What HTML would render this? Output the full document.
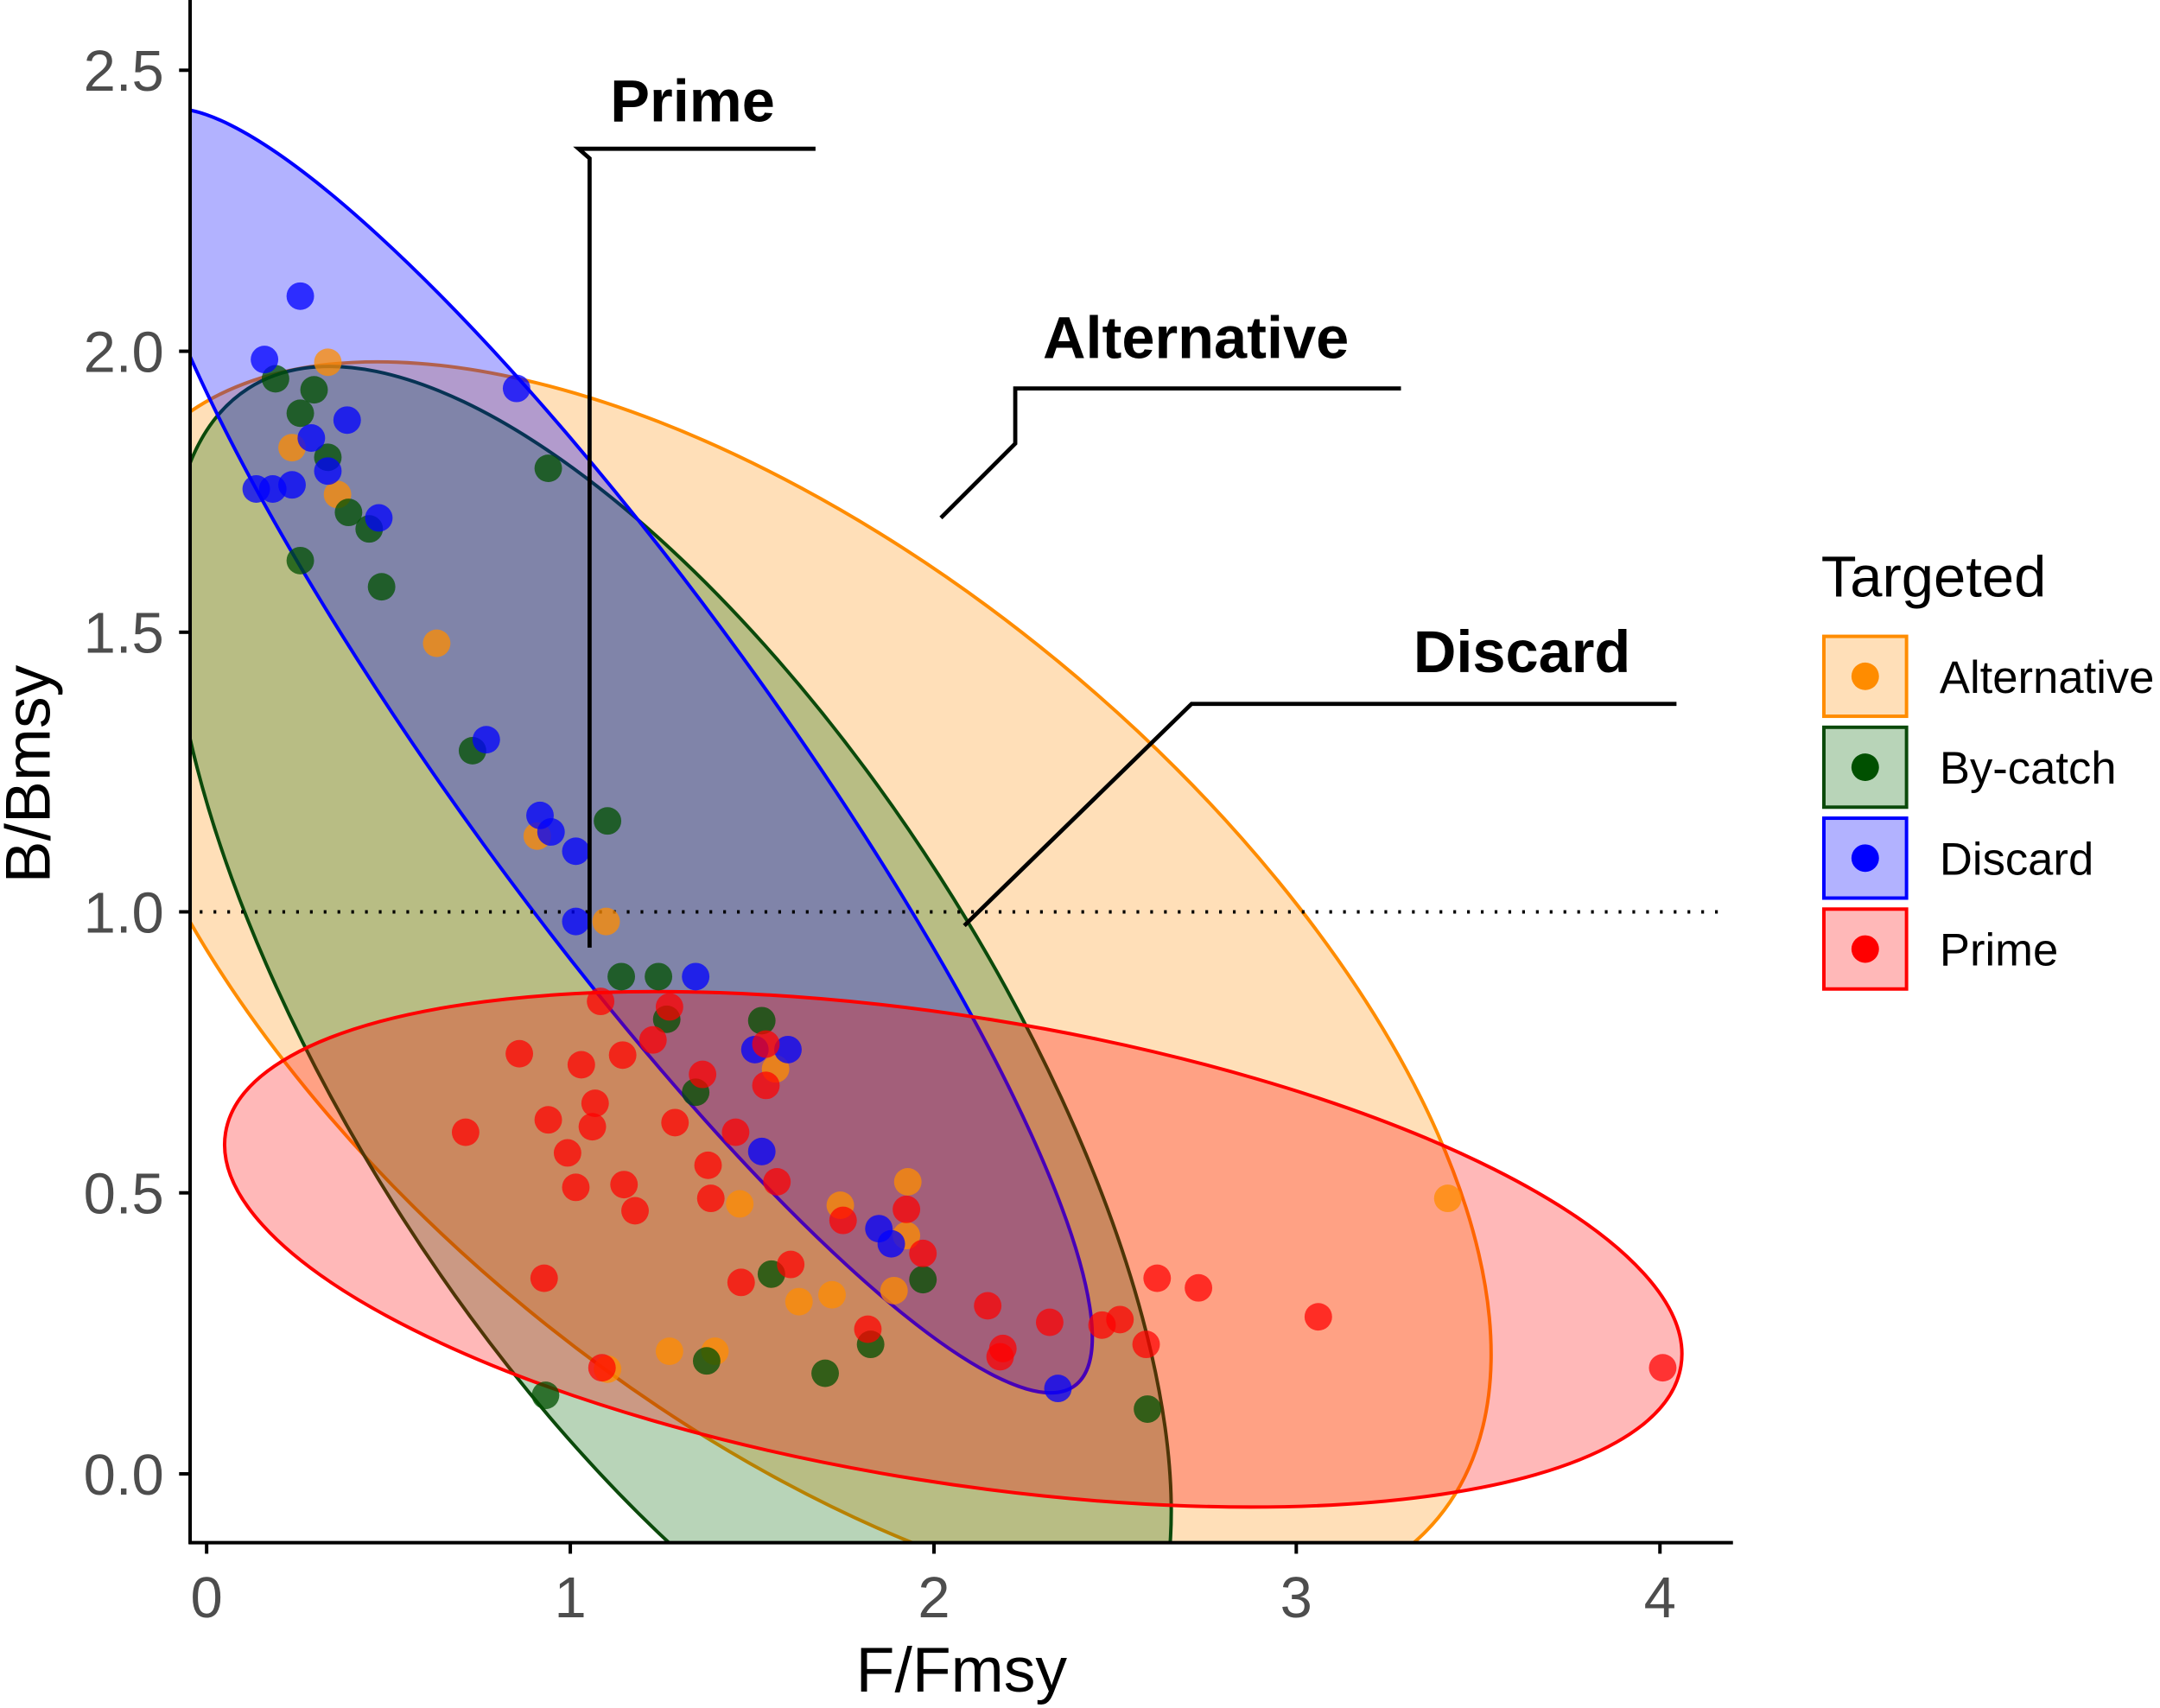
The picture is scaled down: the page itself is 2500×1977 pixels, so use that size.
<!DOCTYPE html>
<html><head><meta charset="utf-8"><style>html,body{margin:0;padding:0;background:#fff;width:2500px;height:1977px;overflow:hidden;position:relative}svg{display:block;position:absolute;left:0;top:0}</style></head>
<body>
<svg width="2500" height="1977" viewBox="0 0 1568 1240" preserveAspectRatio="none" xmlns="http://www.w3.org/2000/svg" font-family="Liberation Sans, sans-serif">
<defs><clipPath id="p"><rect x="139" y="0" width="1120" height="1120"/></clipPath></defs>
<g clip-path="url(#p)">
<ellipse cx="575" cy="715" rx="608" ry="304" transform="rotate(39.5 575 715)" fill="#FF8C00" fill-opacity="0.28" stroke="#FF8C00" stroke-width="2.5"/>
<ellipse cx="487" cy="760" rx="568" ry="231" transform="rotate(57.3 487 760)" fill="#006400" fill-opacity="0.28" stroke="#0B4A0B" stroke-width="2.5"/>
<ellipse cx="445" cy="545" rx="570" ry="116" transform="rotate(54 445 545)" fill="#0000FF" fill-opacity="0.3" stroke="#0000FF" stroke-width="2.5"/>
<ellipse cx="692" cy="907" rx="535" ry="169" transform="rotate(9.1 692 907)" fill="#FF0000" fill-opacity="0.28" stroke="#FF0000" stroke-width="2.5"/>
</g>
<line x1="145" y1="662" x2="1255" y2="662" stroke="#000" stroke-width="2.5" stroke-dasharray="2,8"/>
<g fill="#FF8C00" fill-opacity="0.75">
<circle cx="238" cy="263" r="10"/><circle cx="212" cy="325" r="10"/><circle cx="245" cy="359" r="10"/><circle cx="317" cy="467" r="10"/><circle cx="390" cy="607" r="10"/><circle cx="440" cy="669" r="10"/><circle cx="486" cy="981" r="10"/><circle cx="519" cy="981" r="10"/><circle cx="580" cy="945" r="10"/><circle cx="604" cy="940" r="10"/><circle cx="537" cy="874" r="10"/><circle cx="563" cy="776" r="10"/><circle cx="610" cy="875" r="10"/><circle cx="659" cy="858" r="10"/><circle cx="658" cy="897" r="10"/><circle cx="649" cy="937" r="10"/><circle cx="1051" cy="870" r="10"/><circle cx="441" cy="994" r="10"/>
</g>
<g fill="#005000" fill-opacity="0.75">
<circle cx="200" cy="275" r="10"/><circle cx="228" cy="283" r="10"/><circle cx="218" cy="300" r="10"/><circle cx="218" cy="407" r="10"/><circle cx="238" cy="332" r="10"/><circle cx="253" cy="372" r="10"/><circle cx="268" cy="384" r="10"/><circle cx="277" cy="426" r="10"/><circle cx="398" cy="340" r="10"/><circle cx="343" cy="545" r="10"/><circle cx="441" cy="596" r="10"/><circle cx="451" cy="709" r="10"/><circle cx="478" cy="709" r="10"/><circle cx="484" cy="740" r="10"/><circle cx="505" cy="793" r="10"/><circle cx="553" cy="741" r="10"/><circle cx="560" cy="925" r="10"/><circle cx="513" cy="988" r="10"/><circle cx="599" cy="997" r="10"/><circle cx="632" cy="976" r="10"/><circle cx="670" cy="929" r="10"/><circle cx="833" cy="1023" r="10"/><circle cx="396" cy="1013" r="10"/>
</g>
<g fill="#0000FF" fill-opacity="0.75">
<circle cx="218" cy="215" r="10"/><circle cx="192" cy="261" r="10"/><circle cx="186" cy="355" r="10"/><circle cx="198" cy="355" r="10"/><circle cx="212" cy="352" r="10"/><circle cx="226" cy="318" r="10"/><circle cx="238" cy="342" r="10"/><circle cx="252" cy="305" r="10"/><circle cx="275" cy="376" r="10"/><circle cx="375" cy="282" r="10"/><circle cx="392" cy="592" r="10"/><circle cx="400" cy="604" r="10"/><circle cx="418" cy="618" r="10"/><circle cx="418" cy="669" r="10"/><circle cx="353" cy="537" r="10"/><circle cx="505" cy="709" r="10"/><circle cx="548" cy="762" r="10"/><circle cx="572" cy="762" r="10"/><circle cx="553" cy="836" r="10"/><circle cx="638" cy="892" r="10"/><circle cx="647" cy="903" r="10"/><circle cx="768" cy="1008" r="10"/>
</g>
<g fill="#FF0000" fill-opacity="0.72">
<circle cx="338" cy="822" r="10"/><circle cx="377" cy="765" r="10"/><circle cx="398" cy="813" r="10"/><circle cx="422" cy="773" r="10"/><circle cx="432" cy="801" r="10"/><circle cx="430" cy="818" r="10"/><circle cx="412" cy="837" r="10"/><circle cx="418" cy="862" r="10"/><circle cx="453" cy="860" r="10"/><circle cx="461" cy="879" r="10"/><circle cx="452" cy="766" r="10"/><circle cx="474" cy="755" r="10"/><circle cx="490" cy="815" r="10"/><circle cx="486" cy="731" r="10"/><circle cx="436" cy="727" r="10"/><circle cx="514" cy="846" r="10"/><circle cx="516" cy="870" r="10"/><circle cx="534" cy="822" r="10"/><circle cx="556" cy="788" r="10"/><circle cx="564" cy="858" r="10"/><circle cx="556" cy="758" r="10"/><circle cx="395" cy="928" r="10"/><circle cx="538" cy="931" r="10"/><circle cx="574" cy="918" r="10"/><circle cx="612" cy="886" r="10"/><circle cx="658" cy="878" r="10"/><circle cx="670" cy="910" r="10"/><circle cx="717" cy="948" r="10"/><circle cx="726" cy="985" r="10"/><circle cx="728" cy="979" r="10"/><circle cx="762" cy="960" r="10"/><circle cx="800" cy="962" r="10"/><circle cx="813" cy="958" r="10"/><circle cx="832" cy="976" r="10"/><circle cx="840" cy="928" r="10"/><circle cx="870" cy="935" r="10"/><circle cx="957" cy="956" r="10"/><circle cx="1207" cy="993" r="10"/><circle cx="630" cy="965" r="10"/><circle cx="437" cy="993" r="10"/><circle cx="510" cy="780" r="10"/>
</g>
<g stroke="#000" stroke-width="3" fill="none">
<polyline points="592,108 420,108 428,115 428,688"/>
<polyline points="1017,282 737,282 737,322 683,376"/>
<polyline points="1217,511 865,511 700,672"/>
</g>
<g font-weight="bold" font-size="43" fill="#000">
<text x="443" y="88">Prime</text>
<text x="757" y="260">Alternative</text>
<text x="1026" y="488">Discard</text>
</g>
<g stroke="#000" stroke-width="2.5">
<line x1="138" y1="0" x2="138" y2="1121"/><line x1="137" y1="1120" x2="1258" y2="1120"/>
<line x1="130" y1="1070" x2="138" y2="1070"/><line x1="130" y1="866" x2="138" y2="866"/><line x1="130" y1="662" x2="138" y2="662"/><line x1="130" y1="459" x2="138" y2="459"/><line x1="130" y1="255" x2="138" y2="255"/><line x1="130" y1="51" x2="138" y2="51"/>
<line x1="150" y1="1120" x2="150" y2="1128"/><line x1="414" y1="1120" x2="414" y2="1128"/><line x1="678" y1="1120" x2="678" y2="1128"/><line x1="941" y1="1120" x2="941" y2="1128"/><line x1="1205" y1="1120" x2="1205" y2="1128"/>
</g>
<g font-size="42" fill="#4d4d4d" text-anchor="end">
<text x="119" y="1085">0.0</text><text x="119" y="881">0.5</text><text x="119" y="677">1.0</text><text x="119" y="474">1.5</text><text x="119" y="270">2.0</text><text x="119" y="66">2.5</text>
</g>
<g font-size="42" fill="#4d4d4d" text-anchor="middle">
<text x="150" y="1174">0</text><text x="414" y="1174">1</text><text x="678" y="1174">2</text><text x="941" y="1174">3</text><text x="1205" y="1174">4</text>
</g>
<text x="698" y="1228" font-size="46" text-anchor="middle" fill="#000">F/Fmsy</text>
<text transform="translate(36 562) rotate(-90)" font-size="46" text-anchor="middle" fill="#000">B/Bmsy</text>
<text x="1322" y="433" font-size="42" fill="#000">Targeted</text>
<rect x="1324" y="462" width="60" height="58" fill="#FF8C00" fill-opacity="0.28" stroke="#FF8C00" stroke-width="2.5"/>
<rect x="1324" y="528" width="60" height="58" fill="#006400" fill-opacity="0.28" stroke="#0B4A0B" stroke-width="2.5"/>
<rect x="1324" y="594" width="60" height="58" fill="#0000FF" fill-opacity="0.3" stroke="#0000FF" stroke-width="2.5"/>
<rect x="1324" y="660" width="60" height="58" fill="#FF0000" fill-opacity="0.28" stroke="#FF0000" stroke-width="2.5"/>
<circle cx="1354" cy="491" r="10" fill="#FF8C00"/><circle cx="1354" cy="557" r="10" fill="#005000"/><circle cx="1354" cy="623" r="10" fill="#0000FF"/><circle cx="1354" cy="689" r="10" fill="#FF0000"/>
<g font-size="33" fill="#000">
<text x="1408" y="503">Alternative</text><text x="1408" y="569">By-catch</text><text x="1408" y="635">Discard</text><text x="1408" y="701">Prime</text>
</g>
</svg>
</body></html>
